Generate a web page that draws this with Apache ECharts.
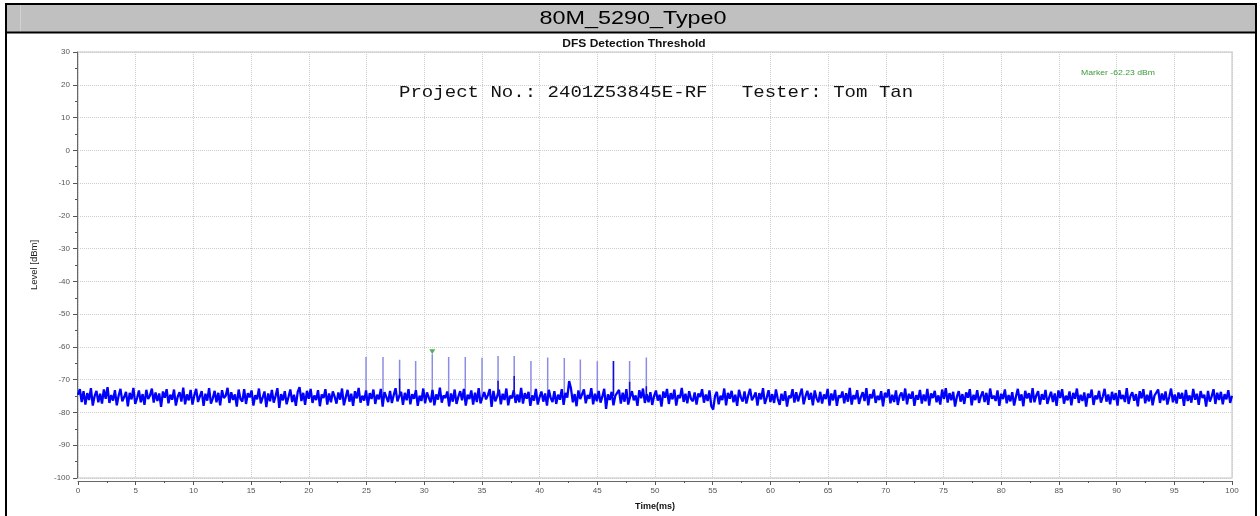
<!DOCTYPE html>
<html><head><meta charset="utf-8">
<script src="https://cdn.jsdelivr.net/npm/echarts@6/dist/echarts.min.js"></script>
<style>html,body{margin:0;padding:0;background:#fff}#c{width:1260px;height:516px}</style>
</head><body><div id="c"></div>
<script>
const chartTitle = '80M_5290_Type0';
const plotTitle = 'DFS Detection Threshold';
const annotation = 'Project No.: 2401Z53845E-RF   Tester: Tom Tan';
const markerLabel = 'Marker -62.23 dBm';
const xName = 'Time(ms)';
const yName = 'Level [dBm]';
const xRange = [0, 100], xInterval = 5;
const yRange = [-100, 30], yInterval = 10;
const sampleStep = 0.16; // ms between trace samples

const noise = [
-74.6,-72.9,-76.8,-73.5,-77.6,-74.1,-76.2,-72.6,-77.9,-75.0,-73.4,-76.9,-74.3,-77.3,-73.0,-75.8,-72.3,-77.1,-74.7,-76.4,
-73.2,-77.8,-74.9,-72.8,-76.6,-75.3,-73.7,-78.1,-74.0,-76.0,-72.5,-77.4,-75.6,-73.3,-76.9,-74.4,-77.7,-73.1,-75.9,-74.8,
-72.7,-77.0,-73.9,-76.5,-74.2,-78.3,-73.6,-75.5,-72.9,-77.2,-74.6,-76.1,-73.0,-77.9,-75.2,-73.8,-76.7,-72.4,-77.5,-74.5,
-76.3,-73.1,-77.6,-74.8,-72.8,-76.8,-75.1,-73.5,-78.0,-74.3,-76.4,-72.6,-77.3,-75.7,-73.4,-76.9,-74.0,-77.8,-73.2,-75.6,
-74.9,-72.5,-77.1,-73.8,-76.2,-74.5,-78.2,-73.0,-75.9,-76.7,-72.9,-77.4,-74.1,-75.4,-73.3,-77.9,-74.7,-76.0,-72.7,-77.2,
-75.5,-73.6,-78.4,-74.2,-76.6,-73.1,-77.0,-75.0,-72.6,-78.6,-74.4,-76.3,-73.5,-77.5,-75.3,-73.0,-76.8,-74.6,-78.0,-73.7,
-72.3,-76.5,-74.0,-77.7,-73.4,-75.8,-72.8,-77.1,-74.8,-76.2,-73.2,-78.1,-74.5,-75.6,-72.9,-77.6,-74.2,-76.9,-73.6,-75.2,
-77.3,-73.9,-76.1,-72.7,-77.8,-75.4,-73.1,-76.7,-74.3,-78.0,-73.5,-75.7,-72.5,-77.0,-74.9,-76.4,-73.3,-77.9,-74.1,-75.9,
-73.0,-77.4,-74.6,-76.0,-72.8,-78.2,-73.8,-75.3,-76.8,-73.4,-77.1,-74.7,-72.6,-76.6,-75.0,-73.7,-77.7,-74.0,-76.3,-72.9,
-77.5,-74.4,-75.8,-73.2,-78.0,-74.9,-76.5,-72.7,-77.2,-73.9,-75.5,-76.9,-73.1,-77.8,-74.5,-76.1,-72.4,-77.0,-74.8,-75.6,
-73.6,-78.1,-74.2,-76.7,-73.0,-77.4,-75.2,-73.5,-76.3,-72.8,-77.9,-74.6,-75.9,-73.3,-77.6,-74.0,-76.8,-72.6,-77.2,-75.4,
-73.8,-76.0,-74.7,-72.9,-78.3,-73.4,-76.6,-75.1,-73.0,-77.5,-74.3,-76.2,-72.7,-77.8,-74.9,-75.7,-73.2,-77.1,-74.5,-76.9,
-72.5,-77.3,-74.1,-75.8,-73.7,-78.0,-74.8,-76.4,-72.8,-77.6,-75.3,-73.6,-76.7,-74.2,-77.9,-73.1,-75.6,-76.8,-73.5,-77.4,
-74.6,-76.1,-72.9,-77.7,-74.0,-75.5,-70.4,-72.7,-76.9,-74.4,-78.1,-73.3,-75.9,-76.5,-73.0,-77.2,-74.7,-75.8,-72.6,-77.5,
-74.3,-76.6,-73.4,-77.0,-75.1,-72.8,-78.9,-74.5,-76.2,-73.7,-77.8,-74.9,-75.4,-73.1,-77.3,-74.0,-76.7,-72.9,-77.6,-75.2,
-73.5,-76.3,-74.8,-78.0,-73.2,-75.7,-72.7,-77.1,-74.4,-76.9,-73.8,-77.7,-75.0,-73.3,-76.4,-74.6,-78.2,-73.6,-75.5,-72.8,
-77.4,-74.1,-76.0,-73.0,-77.9,-74.7,-75.6,-72.5,-76.8,-74.3,-77.2,-73.5,-75.9,-76.6,-73.9,-77.6,-74.2,-75.3,-72.9,-77.0,
-74.5,-76.5,-73.3,-78.1,-79.1,-75.0,-73.7,-77.5,-74.9,-76.2,-72.7,-77.8,-74.0,-75.8,-73.4,-76.9,-74.6,-78.0,-73.1,-75.4,
-76.7,-73.6,-77.3,-74.8,-72.8,-76.3,-75.2,-73.9,-77.9,-74.1,-76.0,-72.6,-77.4,-75.5,-73.2,-76.8,-74.4,-77.1,-73.0,-75.9,
-77.7,-74.3,-76.4,-73.5,-78.2,-74.9,-75.6,-72.9,-77.0,-73.8,-76.6,-74.6,-72.7,-77.5,-75.1,-73.4,-76.1,-74.0,-77.8,-73.3,
-75.7,-76.9,-73.7,-77.3,-74.5,-75.9,-72.8,-77.9,-74.2,-76.3,-73.1,-78.0,-74.8,-75.5,-73.6,-77.2,-74.1,-76.7,-72.5,-77.6,
-74.7,-76.0,-73.2,-77.4,-75.3,-73.8,-76.5,-72.6,-77.8,-74.4,-75.7,-73.0,-77.1,-74.9,-76.2,-73.5,-78.1,-74.0,-75.4,-72.9,
-77.2,-74.6,-76.8,-73.3,-77.7,-75.0,-73.9,-76.4,-72.7,-77.5,-74.3,-75.8,-73.6,-78.0,-74.7,-76.1,-73.1,-77.3,-74.5,-76.6,
-72.8,-77.9,-74.2,-75.6,-73.4,-76.9,-74.8,-77.6,-73.0,-75.9,-72.6,-77.0,-74.1,-76.3,-73.7,-78.2,-75.2,-73.5,-76.7,-74.4,
-77.4,-73.9,-75.5,-72.9,-77.8,-74.6,-76.2,-73.2,-77.1,-75.0,-73.6,-76.8,-74.0,-77.7,-72.7,-75.8,-74.9,-76.5,-73.3,-78.0,
-74.3,-75.9,-73.0,-77.2,-74.7,-76.6,-73.8,-77.9,-75.1,-72.8,-76.4,-74.5,-78.1,-73.4,-75.7,-74.1,-77.0,-72.6,-76.9,-74.8,
-73.5,-77.6,-74.4,-76.1,-73.1,-77.4,-75.4,-73.7,-76.8,-74.2,-78.0,-73.3,-75.6,-72.9,-77.3,-74.9,-76.3,-73.6,-77.8,-74.0,
-75.8,-72.7,-77.1,-74.6,-76.5,-73.9,-78.2,-74.3,-75.5,-73.0,-77.7,-74.8,-76.0,-73.4,-77.0,-75.2,-72.8,-76.7,-74.5,-77.5,
-73.7,-76.2,-74.1,-77.9,-73.2,-75.9,-74.7,-76.8,-72.6,-77.4,-75.0,-73.8,-76.4,-74.4,-78.1,-73.5,-75.7,-72.9,-77.2,-74.6,
-76.6,-73.3,-77.8,-74.9,-75.4,-73.0,-77.1,-74.2,-76.3,-73.6,-77.6,-75.3,-72.7,-76.9,-74.5,-77.3,-73.9,-75.8,-74.0,-78.0,
-73.1,-76.5,-74.8,-77.0,-72.8,-76.1,-74.3,-77.7,-73.5,-75.6,-74.6,-78.2,-73.4,-76.7,-75.1,-72.9,-77.4,-74.0,-76.2,-73.7,
-77.5,-74.4,-76.0,-73.2,-77.1,-74.9
];

const pulseTimes = [24.96,26.43,27.87,29.26,30.70,32.12,33.56,35.01,36.40,37.80,39.25,40.70,42.14,43.53,45.00,46.40,47.80,49.25];
const pulsePeaks = [-63.1,-63.1,-63.9,-64.3,-62.23,-63.1,-63.1,-63.3,-62.8,-62.8,-64.3,-63.2,-63.4,-63.8,-64.4,-64.3,-64.3,-63.2];
const pulseSolidTop = [-75,-75,-69.7,-75,-75,-75,-75,-75,-70.3,-68.9,-75,-75,-75,-75,-75,-64.3,-70.6,-72.0];
const pulseBase = -75;
const markerPoint = [30.70, -62.23];

const noiseData = noise.map((v, i) => [+(i * sampleStep).toFixed(2), v]);
const pulseData = [];
const solidData = [];
pulseTimes.forEach((t, i) => {
  pulseData.push([t, pulseBase], [t, pulsePeaks[i]], [t, '-']);
  solidData.push([t, pulseBase], [t, pulseSolidTop[i]], [t, '-']);
});

const F = '"Liberation Sans", Arial, sans-serif';
const chart = echarts.init(document.getElementById('c'), null, {renderer: 'canvas'});
chart.setOption({
  animation: false,
  backgroundColor: '#fff',
  grid: {left: 78, right: 28, top: 52, bottom: 38, show: true, borderColor: '#d6d6d6', borderWidth: 1.5, backgroundColor: '#fff'},
  xAxis: {
    type: 'value', min: xRange[0], max: xRange[1], interval: xInterval, offset: 3,
    name: xName, nameLocation: 'middle', nameGap: 21,
    nameTextStyle: {fontFamily: F, fontSize: 9, fontWeight: 'bold', color: '#111'},
    axisLine: {show: true, onZero: false, lineStyle: {color: '#666', width: 1}},
    axisTick: {show: true, length: 4, lineStyle: {color: '#555'}},
    minorTick: {show: true, splitNumber: 2, length: 2, lineStyle: {color: '#555'}},
    axisLabel: {fontFamily: F, fontSize: 8, color: '#555', margin: 6},
    splitLine: {show: true, lineStyle: {color: '#cccccc', type: 'dotted', width: 1}}
  },
  yAxis: {
    type: 'value', min: yRange[0], max: yRange[1], interval: yInterval, offset: 1,
    name: yName, nameLocation: 'middle', nameRotate: 90, nameGap: 38,
    nameTextStyle: {fontFamily: F, fontSize: 9.5, color: '#222'},
    axisLine: {show: true, onZero: false, lineStyle: {color: '#666', width: 1}},
    axisTick: {show: true, length: 4, lineStyle: {color: '#555'}},
    minorTick: {show: true, splitNumber: 2, length: 2, lineStyle: {color: '#555'}},
    axisLabel: {fontFamily: F, fontSize: 8, color: '#555', margin: 7},
    splitLine: {show: true, lineStyle: {color: '#cccccc', type: 'dotted', width: 1}}
  },
  series: [
    {type: 'line', name: 'pulses', data: pulseData, showSymbol: false, connectNulls: false,
     lineStyle: {color: '#8c8ce6', width: 1.5}, z: 2, silent: true},
    {type: 'line', name: 'trace', data: noiseData, showSymbol: false, sampling: 'none',
     lineStyle: {color: '#0000ff', width: 2.3}, z: 3, silent: true},
    {type: 'line', name: 'pulseCore', data: solidData, showSymbol: false, connectNulls: false,
     lineStyle: {color: '#1010d0', width: 1.5}, z: 4, silent: true},
    {type: 'scatter', name: 'marker', data: [markerPoint], symbol: 'triangle', symbolRotate: 180,
     symbolSize: [6, 5], symbolOffset: [0, -2.5], itemStyle: {color: '#2f9a2f'}, z: 5, silent: true}
  ],
  graphic: [
    {type: 'rect', shape: {x: 7, y: 5, width: 1248, height: 27}, style: {fill: '#c0c0c0'}, z: 10},
    {type: 'line', shape: {x1: 20.5, y1: 5, x2: 20.5, y2: 32}, style: {stroke: '#d2d2d2', lineWidth: 1}, z: 11},
    {type: 'line', shape: {x1: 6, y1: 32.5, x2: 1256, y2: 32.5}, style: {stroke: '#000', lineWidth: 2}, z: 11},
    {type: 'rect', shape: {x: 6, y: 4, width: 1250, height: 520}, style: {fill: null, stroke: '#000', lineWidth: 2}, z: 12},
    {type: 'text', x: 633, y: 18.5, scaleX: 1.23, z: 12,
     style: {text: chartTitle, font: '19px ' + F, fill: '#000', textAlign: 'center', align: 'center', textVerticalAlign: 'middle', verticalAlign: 'middle'}},
    {type: 'text', x: 634, y: 44, scaleX: 1.2, z: 12,
     style: {text: plotTitle, font: 'bold 10px ' + F, fill: '#111', textAlign: 'center', align: 'center', textVerticalAlign: 'middle', verticalAlign: 'middle'}},
    {type: 'text', x: 399, y: 92, scaleX: 1.12, z: 12,
     style: {text: annotation, font: '17px "Liberation Mono", "Courier New", monospace', fill: '#111', textAlign: 'left', align: 'left', textVerticalAlign: 'middle', verticalAlign: 'middle'}},
    {type: 'text', x: 1081, y: 73, scaleX: 1.08, z: 12,
     style: {text: markerLabel, font: '8px ' + F, fill: '#3a9a3a', textAlign: 'left', align: 'left', textVerticalAlign: 'middle', verticalAlign: 'middle'}}
  ]
});
</script>
</body></html>
